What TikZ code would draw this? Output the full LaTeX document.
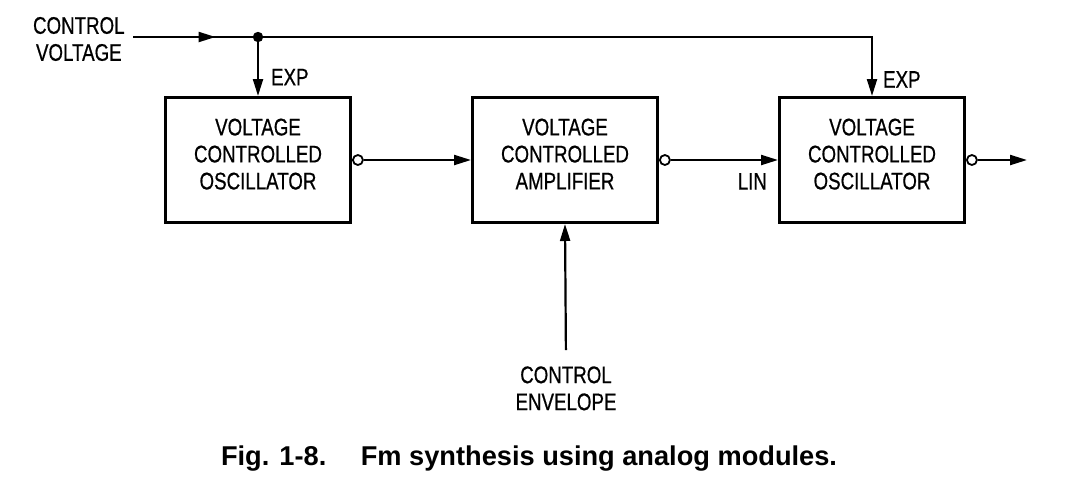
\documentclass[tikz,border=0pt]{standalone}
\usepackage{fontspec}
\setmainfont{Liberation Sans}
\newfontfamily\narrowfont{Liberation Sans}[FakeStretch=0.78, FakeBold=0.6]
\usepackage{tikz}
\usetikzlibrary{calc, positioning, arrows.meta}

\begin{document}
\begin{tikzpicture}[x=0.5pt, y=-0.5pt,
  font=\narrowfont\fontsize{12pt}{13.5pt}\selectfont,
  >={Triangle[length=8.5pt,width=5pt]},
  module/.style={draw, line width=1.5pt, minimum width=92.5pt, minimum height=62.5pt,
                 align=center, inner sep=2pt, text depth=6pt},
  port/.style={draw, circle, line width=0.9pt, fill=white, inner sep=0pt, minimum size=5pt},
  lbl/.style={inner sep=1pt, align=center},
  flow/.style={->, line width=1.1pt}
]
\useasboundingbox (0,0) rectangle (1068,488);

\node[module] (vcoA) at (258,160) {VOLTAGE\\CONTROLLED\\OSCILLATOR};
\node[module, right=59.5pt of vcoA] (vca) {VOLTAGE\\CONTROLLED\\AMPLIFIER};
\node[module, right=59.5pt of vca] (vcoB) {VOLTAGE\\CONTROLLED\\OSCILLATOR};

\node[port, anchor=west] (portA) at (vcoA.east) {};
\node[port, anchor=west] (portV) at (vca.east) {};
\node[port, anchor=west] (portB) at (vcoB.east) {};

\node[lbl, anchor=east] (cv) at (127,39) {CONTROL\\VOLTAGE};
\node[lbl, anchor=north] (env) at (566,364) {CONTROL\\ENVELOPE};
\coordinate (cvin) at (133,37);
\coordinate (tap) at (vcoA.north |- cvin);
\coordinate (out) at (1027,160);

% control voltage bus
\draw[line width=1.1pt] (cvin) -- (tap);
\draw[flow] (cvin) -- ($(cvin)!0.66!(tap)$);
\fill (tap) circle (2.6pt);
\draw[flow] (tap) -- node[lbl, right=5pt, pos=0.68]{EXP} (vcoA.north);
\draw[flow] (tap) -| node[lbl, right=4pt, pos=0.86]{EXP} (vcoB.north);

% audio path
\draw[flow] (portA) -- (vca.west);
\draw[flow] (portV) -- node[lbl, below left=5pt and 4pt, pos=1]{LIN} (vcoB.west);
\draw[flow] (portB) -- (out);
\draw[flow, shorten <=7pt] (env.north) -- (vca.south);

\node[font=\fontsize{13.6pt}{16pt}\selectfont\bfseries] (cap) at (529,459)
  {Fig. 1-8.\hspace{0.9em} Fm synthesis using analog modules.};
\end{tikzpicture}
\end{document}
